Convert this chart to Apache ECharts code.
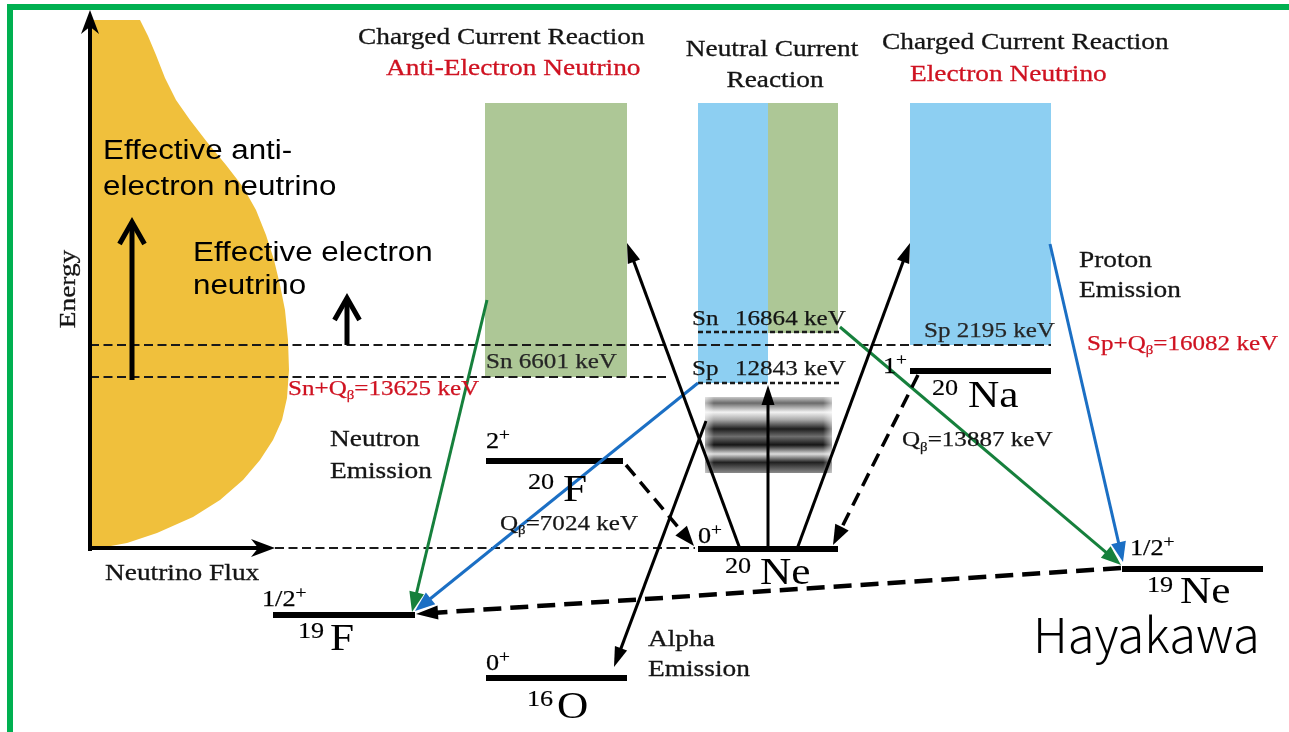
<!DOCTYPE html>
<html>
<head>
<meta charset="utf-8">
<title>Neutrino reactions on 20Ne</title>
<script src="https://cdn.jsdelivr.net/npm/echarts@6/dist/echarts.min.js"></script>
<style>
  html, body { margin: 0; padding: 0; background: #ffffff; }
  #chart { width: 1289px; height: 732px; }
</style>
</head>
<body>
<div id="chart"></div>
<script>
// ---------------- data ----------------
// Diagram plane: x runs 0..1289 left to right, y runs 0..732 top to bottom.

// Outline of the neutrino flux spectrum, [flux, energy]
const fluxOutline = [
  [90, 20], [140, 20], [148, 36], [156, 55], [165, 78], [176, 100], [190, 120],
  [207, 142], [226, 165], [243, 187], [256, 210], [266, 235], [274, 260],
  [280, 285], [285, 310], [288, 340], [289, 370], [287, 398], [282, 420],
  [273, 440], [260, 460], [243, 480], [220, 500], [193, 517], [157, 533],
  [127, 543], [100, 548], [90, 548]
];

// Reaction windows opened by each neutrino flavour
const bandFlavour = ['anti', 'electron', 'anti', 'electron'];
const bandSpanX = [[485, 627], [698, 768], [768, 838], [910, 1051]];
const bandSpanY = [[103, 377], [103, 383], [103, 333], [103, 345]];

// Giant-resonance region of 20Ne
const resonanceSpan = [[705, 397], [832, 473]];

// Nuclear levels
const levelMass = ['19', '20', '16', '20', '20', '19'];
const levelElement = ['F', 'F', 'O', 'Ne', 'Na', 'Ne'];
const levelSpin = ['1/2', '2', '0', '0', '1', '1/2'];
const levelSpanX = [[273, 415], [486, 623], [486, 627], [698, 838], [910, 1051], [1122, 1263]];
const levelY = [615, 461, 678, 549, 371, 569];
const spinAt = [[262, 599.5], [486, 441.5], [486, 663.5], [698, 536.5], [883, 367], [1130, 548.5]];
const nuclideAt = [[298, 330, 640], [528, 563, 491], [527, 557, 708], [725, 760, 574.5], [932, 968, 397], [1147, 1180, 593.5]];

// Separation energies and beta-decay Q values (keV)
const separationName = ['Sn', 'Sp', 'Sn', 'Sp'];
const separationKeV = [6601, 12843, 16864, 2195];
const qBetaKeV = [7024, 13887];       // 20F, 20Na
const thresholdKeV = [13625, 16082];  // Sn+Qβ, Sp+Qβ

// Threshold lines: [x0, x1, y, pattern]
const thresholdLines = [
  [90, 1051, 345, 'long'],
  [90, 667, 377, 'long'],
  [275, 695, 548, 'long'],
  [698, 840, 332, 'short'],
  [698, 840, 383, 'short']
];

// Transitions: [fromX, fromY, toX, toY, kind]
const transitions = [
  [487, 300, 412, 612, 'neutron'],
  [698, 383, 415, 611, 'proton'],
  [840, 327, 1121, 565, 'neutron'],
  [1050, 244, 1123, 562, 'proton'],
  [1121, 568, 416, 614, 'decay'],
  [740, 549, 627, 243, 'excite'],
  [797, 549, 910, 243, 'excite'],
  [768, 549, 768, 385, 'excite'],
  [706, 421, 614, 667, 'excite'],
  [626, 465, 694, 546, 'beta'],
  [918, 375, 833, 545, 'beta'],
  [90, 551, 90, 10, 'axis'],
  [88, 548, 275, 548, 'axis'],
  [132, 380, 132, 217, 'rise'],
  [347, 345, 347, 293, 'rise']
];

// ---------------- styles ----------------
const SERIF = "'Liberation Serif', 'Times New Roman', serif";
const SANS = "'Liberation Sans', Arial, sans-serif";
const RED = '#cf1221';
const textStyle = {
  head:    { family: SERIF, size: 24, fill: '#141414', sx: 1.14, bold: 0.3 },
  headRed: { family: SERIF, size: 24, fill: RED, sx: 1.14, bold: 0.3 },
  note:    { family: SERIF, size: 22, fill: '#141414', sx: 1.14, bold: 0.25 },
  noteDim: { family: SERIF, size: 22, fill: '#262626', sx: 1.14, bold: 0.25 },
  noteRed: { family: SERIF, size: 22, fill: RED, sx: 1.14, bold: 0.25 },
  spin:    { family: SERIF, size: 23, fill: '#000', sx: 1.14, bold: 0.25 },
  mass:    { family: SERIF, size: 23, fill: '#000', sx: 1.14, bold: 0.15 },
  element: { family: SERIF, size: 38, fill: '#000', sx: 1.14 },
  sans:    { family: SANS, size: 27, fill: '#000', sx: 1.16 },
  sign:    { family: "'Noto Sans CJK JP', 'Noto Sans', sans-serif", size: 48, weight: 300, fill: '#000', sx: 1.02 }
};
const bandColor = { anti: '#adc796', electron: '#8dcff2' };
const arrowStyle = {
  neutron: { color: '#16803c', width: 3, head: 20, half: 7.5 },
  proton:  { color: '#1b6fc4', width: 3, head: 20, half: 7.5 },
  excite:  { color: '#000', width: 3, head: 20, half: 6.5 },
  beta:    { color: '#000', width: 3.5, head: 20, half: 7.5, dash: [14, 8] },
  decay:   { color: '#000', width: 4.5, head: 22, half: 7, dash: [18, 9] },
  axis:    { color: '#000', width: 4, head: 24, half: 9, notch: 0.7 },
  rise:    { color: '#000', width: 5, head: 22, half: 12.5, open: true }
};
const dashStyle = {
  long:  { width: 2, dash: [9, 4.5] },
  short: { width: 2.6, dash: [5, 3] }
};

// ---------------- captions ----------------
const sub = t => ({ t, size: 13, dy: 7 });
const sup = t => ({ t, size: 17, dy: -6 });
const captions = [
  [['Charged Current Reaction'], 358, 37.5, 'head'],
  [['Anti-Electron Neutrino'], 386, 69, 'headRed'],
  [['Neutral Current'], 772, 49.5, 'head', 'center'],
  [['Reaction'], 775, 80.5, 'head', 'center'],
  [['Charged Current Reaction'], 882, 43, 'head'],
  [['Electron Neutrino'], 910, 74.5, 'headRed'],
  [['Proton'], 1079, 261, 'head'],
  [['Emission'], 1079, 291, 'head'],
  [['Neutron'], 330, 440, 'head'],
  [['Emission'], 330, 471.5, 'head'],
  [['Alpha'], 648, 639.5, 'head'],
  [['Emission'], 648, 669.5, 'head'],
  [['Neutrino Flux'], 105, 574, 'head'],
  [['Energy'], 69, 289, 'head', 'center', 90],
  [['Sp+Q', sub('β'), '=' + thresholdKeV[1] + ' keV'], 1087, 344, 'noteRed'],
  [['Sn+Q', sub('β'), '=' + thresholdKeV[0] + ' keV'], 288, 389, 'noteRed'],
  [[separationName[0] + ' ' + separationKeV[0] + ' keV'], 486, 362.5, 'noteDim'],
  [[separationName[2]], 692, 319, 'note'],
  [[separationKeV[2] + ' keV'], 735, 319, 'note'],
  [[separationName[1]], 692, 369, 'note'],
  [[separationKeV[1] + ' keV'], 735, 369, 'note'],
  [[separationName[3] + ' ' + separationKeV[3] + ' keV'], 924, 331.7, 'noteDim'],
  [['Q', sub('β'), '=' + qBetaKeV[0] + ' keV'], 500, 524, 'note'],
  [['Q', sub('β'), '=' + qBetaKeV[1] + ' keV'], 902, 440.5, 'note'],
  [['Effective anti-'], 103, 152, 'sans'],
  [['electron neutrino'], 103, 188, 'sans'],
  [['Effective electron'], 193, 254, 'sans'],
  [['neutrino'], 193, 287, 'sans'],
  [['Hayakawa'], 1033, 634.5, 'sign']
];
levelSpin.forEach((s, i) => {
  captions.push([[s, sup('+')], spinAt[i][0], spinAt[i][1], 'spin']);
  captions.push([[levelMass[i]], nuclideAt[i][0], nuclideAt[i][2] - 8, 'mass']);
  captions.push([[levelElement[i]], nuclideAt[i][1], nuclideAt[i][2], 'element']);
});

// ---------------- drawing ----------------
const measureCtx = document.createElement('canvas').getContext('2d');
function runWidth(text, size, family, weight) {
  measureCtx.font = (weight || 'normal') + ' ' + size + 'px ' + family;
  return measureCtx.measureText(text).width;
}

function layer(name, items, z, draw) {
  return {
    type: 'custom',
    name: name,
    z: z,
    silent: true,
    clip: false,
    data: items.map((_, i) => [i, i]),
    renderItem: (params, api) => draw(items[params.dataIndex], p => api.coord(p))
  };
}

function drawBand(i, c) {
  const a = c([bandSpanX[i][0], bandSpanY[i][0]]);
  const b = c([bandSpanX[i][1], bandSpanY[i][1]]);
  return { type: 'rect', shape: { x: a[0], y: a[1], width: b[0] - a[0], height: b[1] - a[1] },
           style: { fill: bandColor[bandFlavour[i]] } };
}

function drawFlux(pts, c) {
  return { type: 'polygon', shape: { points: pts.map(c) }, style: { fill: '#f0c03c' } };
}

function drawResonance(span, c) {
  const a = c(span[0]), b = c(span[1]);
  const shape = { x: a[0], y: a[1], width: b[0] - a[0], height: b[1] - a[1] };
  return {
    type: 'group',
    children: [
      { type: 'rect', shape: shape, style: { fill: new echarts.graphic.LinearGradient(0, 0, 0, 1, [
        { offset: 0.00, color: '#c8c8c8' }, { offset: 0.08, color: '#6a6a6a' },
        { offset: 0.20, color: '#f2f2f2' }, { offset: 0.30, color: '#a8a8a8' },
        { offset: 0.42, color: '#1e1e1e' }, { offset: 0.52, color: '#6e6e6e' },
        { offset: 0.63, color: '#151515' }, { offset: 0.75, color: '#dcdcdc' },
        { offset: 0.86, color: '#202020' }, { offset: 1.00, color: '#8a8a8a' }
      ]) } },
      { type: 'rect', shape: shape, style: { fill: new echarts.graphic.LinearGradient(0, 0, 1, 0, [
        { offset: 0, color: 'rgba(255,255,255,0.55)' }, { offset: 0.07, color: 'rgba(255,255,255,0)' },
        { offset: 0.93, color: 'rgba(255,255,255,0)' }, { offset: 1, color: 'rgba(255,255,255,0.55)' }
      ]) } }
    ]
  };
}

function drawThreshold(t, c) {
  const a = c([t[0], t[2]]), b = c([t[1], t[2]]);
  const st = dashStyle[t[3]];
  return { type: 'line', shape: { x1: a[0], y1: a[1], x2: b[0], y2: b[1] },
           style: { stroke: '#1a1a1a', lineWidth: st.width, lineDash: st.dash } };
}

function drawLevel(i, c) {
  const a = c([levelSpanX[i][0], levelY[i]]), b = c([levelSpanX[i][1], levelY[i]]);
  return { type: 'line', shape: { x1: a[0], y1: a[1], x2: b[0], y2: b[1] },
           style: { stroke: '#000', lineWidth: 6, lineCap: 'butt' } };
}

function drawTransition(tr, c) {
  const st = arrowStyle[tr[4]];
  const a = c([tr[0], tr[1]]), b = c([tr[2], tr[3]]);
  const dx = b[0] - a[0], dy = b[1] - a[1], len = Math.hypot(dx, dy);
  const ux = dx / len, uy = dy / len, nx = -uy, ny = ux;
  const children = [];
  if (st.open) {
    const back = (st.width / 2) / Math.sin(Math.atan(st.half / st.head));
    const tx = b[0] - ux * back, ty = b[1] - uy * back;
    const bx = tx - ux * st.head, by = ty - uy * st.head;
    children.push({ type: 'line', shape: { x1: a[0], y1: a[1], x2: tx, y2: ty },
                    style: { stroke: st.color, lineWidth: st.width } });
    children.push({ type: 'polyline',
                    shape: { points: [[bx + nx * st.half, by + ny * st.half], [tx, ty], [bx - nx * st.half, by - ny * st.half]] },
                    style: { stroke: st.color, lineWidth: st.width, fill: null, lineJoin: 'miter' } });
  } else {
    const notch = st.notch || 1;
    const bx = b[0] - ux * st.head, by = b[1] - uy * st.head;
    const mx = b[0] - ux * st.head * notch, my = b[1] - uy * st.head * notch;
    children.push({ type: 'line', shape: { x1: a[0], y1: a[1], x2: mx + ux * 2, y2: my + uy * 2 },
                    style: { stroke: st.color, lineWidth: st.width, lineDash: st.dash || null } });
    children.push({ type: 'polygon',
                    shape: { points: [[b[0], b[1]], [bx + nx * st.half, by + ny * st.half], [mx, my], [bx - nx * st.half, by - ny * st.half]] },
                    style: { fill: st.color } });
  }
  return { type: 'group', children: children };
}

function drawCaption(cap, c) {
  const runs = cap[0].map(r => (typeof r === 'string' ? { t: r } : r));
  const st = textStyle[cap[3]];
  const widths = runs.map(r => runWidth(r.t, r.size || st.size, st.family, st.weight) * st.sx);
  const total = widths.reduce((s, w) => s + w, 0);
  const p = c([cap[1], cap[2]]);
  let cursor = cap[4] === 'center' ? -total / 2 : 0;
  const children = runs.map((r, i) => {
    const style = {
      text: r.t, fill: st.fill, fontSize: r.size || st.size, fontFamily: st.family,
      fontWeight: st.weight || 'normal', align: 'left', verticalAlign: 'middle'
    };
    if (st.bold) {
      style.stroke = st.fill;
      style.lineWidth = st.bold;
    }
    const el = { type: 'text', x: cursor, y: r.dy || 0, scaleX: st.sx, style: style };
    cursor += widths[i];
    return el;
  });
  return { type: 'group', x: p[0], y: p[1], rotation: (cap[5] || 0) * Math.PI / 180, children: children };
}

// Page frame (top and left rules)
const frameRules = [[[8, 4], [1289, 10]], [[7, 4], [13, 732]]];
function drawFrame(r, c) {
  const a = c(r[0]), b = c(r[1]);
  return { type: 'rect', shape: { x: a[0], y: a[1], width: b[0] - a[0], height: b[1] - a[1] },
           style: { fill: '#00b050' } };
}

const chart = echarts.init(document.getElementById('chart'), null, { renderer: 'canvas' });
chart.setOption({
  animation: false,
  backgroundColor: '#ffffff',
  grid: { left: 0, right: 0, top: 0, bottom: 0 },
  xAxis: { type: 'value', min: 0, max: 1289, show: false },
  yAxis: { type: 'value', min: 0, max: 732, inverse: true, show: false },
  series: [
    layer('bands', bandSpanX.map((_, i) => i), 1, drawBand),
    layer('flux', [fluxOutline], 1, drawFlux),
    layer('resonance', [resonanceSpan], 2, drawResonance),
    layer('thresholds', thresholdLines, 3, drawThreshold),
    layer('levels', levelY.map((_, i) => i), 4, drawLevel),
    layer('transitions', transitions, 5, drawTransition),
    layer('captions', captions, 6, drawCaption),
    layer('frame', frameRules, 7, drawFrame)
  ]
});
</script>
</body>
</html>
